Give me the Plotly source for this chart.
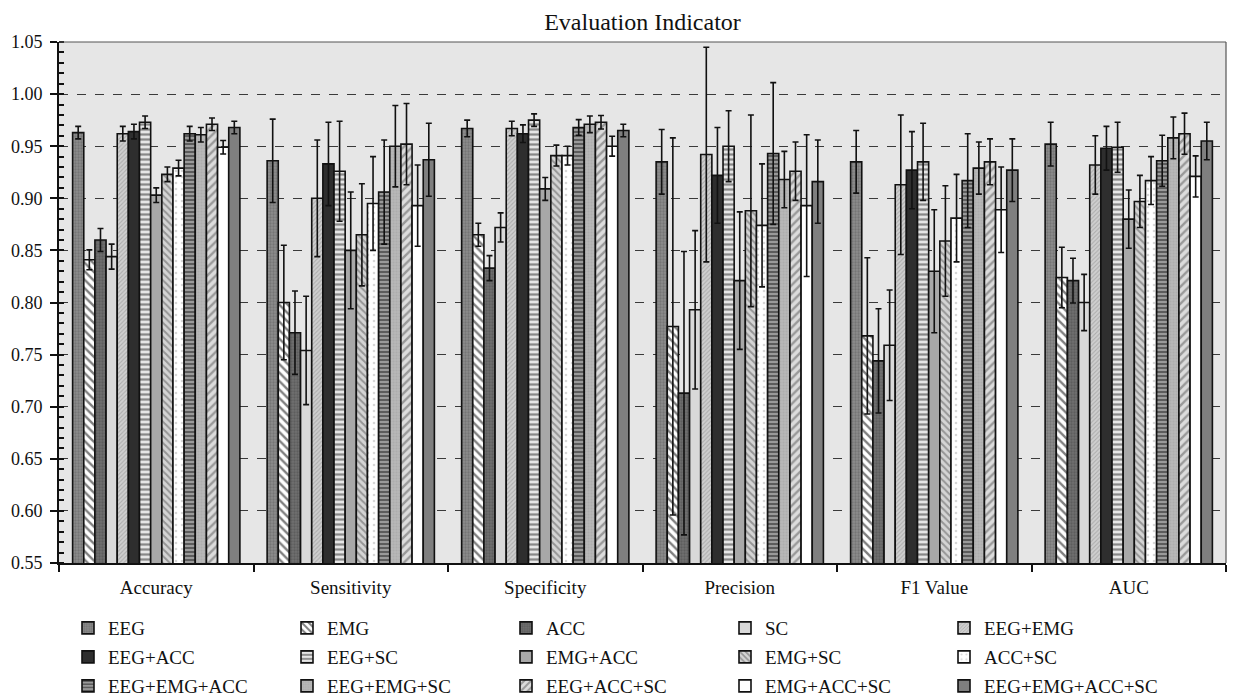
import plotly.graph_objects as go

categories = ["Accuracy", "Sensitivity", "Specificity", "Precision", "F1 Value", "AUC"]
series_names = ["EEG", "EMG", "ACC", "SC", "EEG+EMG",
                "EEG+ACC", "EEG+SC", "EMG+ACC", "EMG+SC", "ACC+SC",
                "EEG+EMG+ACC", "EEG+EMG+SC", "EEG+ACC+SC", "EMG+ACC+SC", "EEG+EMG+ACC+SC"]

accuracy_mean = [0.963, 0.841, 0.860, 0.844, 0.962, 0.964, 0.973, 0.903, 0.923, 0.929, 0.962, 0.961, 0.971, 0.949, 0.968]
accuracy_err = [0.006, 0.0095, 0.011, 0.012, 0.007, 0.007, 0.006, 0.007, 0.007, 0.0075, 0.007, 0.007, 0.006, 0.0065, 0.006]
sensitivity_mean = [0.936, 0.800, 0.771, 0.754, 0.900, 0.933, 0.926, 0.850, 0.865, 0.895, 0.906, 0.950, 0.952, 0.893, 0.937]
sensitivity_err = [0.040, 0.055, 0.040, 0.052, 0.056, 0.040, 0.048, 0.056, 0.049, 0.045, 0.050, 0.039, 0.039, 0.039, 0.035]
specificity_mean = [0.967, 0.865, 0.833, 0.872, 0.967, 0.962, 0.975, 0.909, 0.941, 0.941, 0.968, 0.971, 0.973, 0.950, 0.965]
specificity_err = [0.008, 0.011, 0.012, 0.014, 0.007, 0.0085, 0.006, 0.011, 0.010, 0.009, 0.0075, 0.008, 0.0065, 0.0095, 0.006]
precision_mean = [0.935, 0.777, 0.713, 0.793, 0.942, 0.922, 0.950, 0.821, 0.888, 0.874, 0.943, 0.918, 0.926, 0.893, 0.916]
precision_err = [0.031, 0.181, 0.136, 0.076, 0.103, 0.046, 0.034, 0.066, 0.092, 0.059, 0.068, 0.027, 0.028, 0.068, 0.040]
f1_mean = [0.935, 0.768, 0.744, 0.759, 0.913, 0.927, 0.935, 0.830, 0.859, 0.881, 0.917, 0.929, 0.935, 0.889, 0.927]
f1_err = [0.030, 0.075, 0.050, 0.053, 0.067, 0.037, 0.037, 0.059, 0.053, 0.042, 0.045, 0.025, 0.022, 0.041, 0.030]
auc_mean = [0.952, 0.824, 0.821, 0.800, 0.932, 0.948, 0.949, 0.880, 0.897, 0.917, 0.936, 0.958, 0.962, 0.921, 0.955]
auc_err = [0.021, 0.029, 0.0215, 0.027, 0.028, 0.021, 0.024, 0.028, 0.025, 0.023, 0.0245, 0.020, 0.0197, 0.0197, 0.018]

means = [accuracy_mean, sensitivity_mean, specificity_mean, precision_mean, f1_mean, auc_mean]
errs = [accuracy_err, sensitivity_err, specificity_err, precision_err, f1_err, auc_err]

# fill colour and pattern (shape, fgcolor, size, solidity) for each series
styles = [
    ("#8c8c8c", ".", "#5e5e5e", 3, 0.45),
    ("#ffffff", "\\", "#000000", 6, 0.4),
    ("#707070", ".", "#4a4a4a", 3, 0.45),
    ("#d9d9d9", "", None, 8, 0.3),
    ("#cfcfcf", "/", "#8a8a8a", 3, 0.35),
    ("#2e2e2e", "", None, 8, 0.3),
    ("#e6e6e6", "-", "#2a2a2a", 5, 0.45),
    ("#a8a8a8", "", None, 8, 0.3),
    ("#d4d4d4", "\\", "#555555", 5, 0.4),
    ("#ffffff", ".", "#b0b0b0", 6, 0.15),
    ("#9a9a9a", "-", "#1e1e1e", 4, 0.5),
    ("#b8b8b8", ".", "#a2a2a2", 3, 0.4),
    ("#dcdcdc", "/", "#555555", 6, 0.4),
    ("#ffffff", "", None, 8, 0.3),
    ("#7f7f7f", "", None, 8, 0.3),
]

# the page body adds an 8 px offset, so the figure is 8 px smaller each way
W, H = 1227, 689

fig = go.Figure()
legend_ids = ["legend", "legend2", "legend3"]
for i, name in enumerate(series_names):
    color, shape, fg, size, sol = styles[i]
    pattern = dict(shape=shape, size=size, solidity=sol)
    if fg:
        pattern["fgcolor"] = fg
        pattern["bgcolor"] = color
    fig.add_trace(go.Bar(
        name=name,
        x=categories,
        y=[means[c][i] for c in range(len(categories))],
        error_y=dict(type="data", array=[errs[c][i] for c in range(len(categories))],
                     color="#111111", thickness=1.6, width=3),
        marker=dict(color=color, line=dict(color="#111111", width=1.6), pattern=pattern),
        legend=legend_ids[i // 5],
    ))

font = "Liberation Serif, Times New Roman, serif"
leg_common = dict(orientation="h", xref="container", x=60 / W, xanchor="left",
                  yref="container", yanchor="middle",
                  entrywidth=174, entrywidthmode="pixels",
                  font=dict(family=font, size=19, color="#111111"),
                  bgcolor="rgba(0,0,0,0)", traceorder="normal")

fig.update_layout(
    width=W, height=H,
    margin=dict(l=51, r=9, t=34, b=134, autoexpand=False),
    paper_bgcolor="white",
    plot_bgcolor="#e6e6e6",
    barmode="group",
    bargap=0.14,
    bargroupgap=0.0,
    title=dict(text="Evaluation Indicator", x=0.5, xanchor="center", xref="paper",
               yref="container", y=1 - 14 / H, yanchor="middle",
               font=dict(family=font, size=24, color="#111111")),
    font=dict(family=font, size=18, color="#111111"),
    legend=dict(y=1 - 620 / H, **leg_common),
    legend2=dict(y=1 - 649 / H, **leg_common),
    legend3=dict(y=1 - 678 / H, **leg_common),
    showlegend=True,
)

fig.update_xaxes(
    showline=True, linecolor="#111111", linewidth=2,
    ticks="outside", tickson="boundaries", ticklen=7, tickwidth=1.5, tickcolor="#111111",
    ticklabelstandoff=6,
    showgrid=False,
    tickfont=dict(family=font, size=19, color="#111111"),
)
fig.update_yaxes(
    range=[0.55, 1.05], dtick=0.05, tick0=0.55, tickformat=".2f",
    showline=True, linecolor="#111111", linewidth=2,
    ticks="outside", ticklen=7, tickwidth=1.5, tickcolor="#111111",
    ticklabelstandoff=4,
    minor=dict(dtick=0.01, ticks="inside", ticklen=5, tickwidth=1.5, tickcolor="#111111", showgrid=False),
    showgrid=True, gridcolor="#3a3a3a", gridwidth=1, griddash="dash",
    zeroline=False,
    tickfont=dict(family=font, size=18, color="#111111"),
)

# thin top and right frame lines
fig.add_shape(type="line", xref="paper", yref="paper", x0=0, x1=1, y0=1, y1=1,
              line=dict(color="#555555", width=1.2))
fig.add_shape(type="line", xref="paper", yref="paper", x0=1, x1=1, y0=0, y1=1,
              line=dict(color="#555555", width=1.2))

fig.write_html("out.html")
